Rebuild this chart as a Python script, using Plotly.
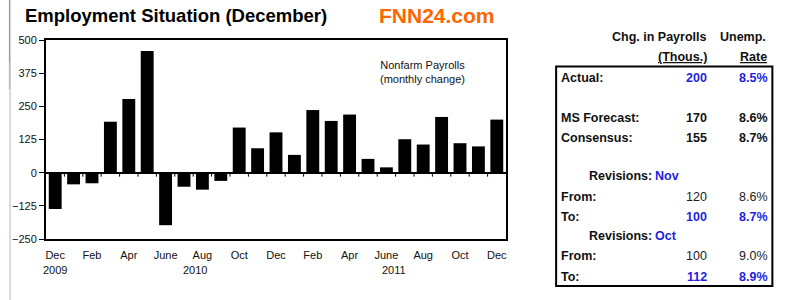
import plotly.graph_objects as go

# ---------------- data ----------------
months = ["Dec 2009", "Jan 2010", "Feb 2010", "Mar 2010", "Apr 2010", "May 2010", "Jun 2010",
          "Jul 2010", "Aug 2010", "Sep 2010", "Oct 2010", "Nov 2010", "Dec 2010",
          "Jan 2011", "Feb 2011", "Mar 2011", "Apr 2011", "May 2011", "Jun 2011",
          "Jul 2011", "Aug 2011", "Sep 2011", "Oct 2011", "Nov 2011", "Dec 2011"]
payrolls = [-137, -44, -40, 192, 278, 459, -198, -53, -64, -31, 170, 92, 152,
            67, 236, 195, 219, 52, 20, 126, 106, 210, 111, 99, 200]
tick_labels = ["Dec", "Feb", "Apr", "June", "Aug", "Oct", "Dec",
               "Feb", "Apr", "June", "Aug", "Oct", "Dec"]
years = ["2009", "2010", "2011"]
y_ticks = [-250, -125, 0, 125, 250, 375, 500]

head_payroll = ["Chg. in Payrolls", "(Thous.)"]
head_rate = ["Unemp.", "Rate"]
row_labels = ["Actual:", "MS Forecast:", "Consensus:", "From:", "To:", "From:", "To:"]
row_payroll = ["200", "170", "155", "120", "100", "100", "112"]
row_rate = ["8.5%", "8.6%", "8.7%", "8.6%", "8.7%", "9.0%", "8.9%"]
revision_months = ["Nov", "Oct"]

# ---------------- layout helpers ----------------
L, R, T, B = 38, 294, 40, 61
FW, FH = 800, 300
W = FW - L - R
H = FH - T - B


def px(x):
    return (x - L) / W


def py(y):
    return (FH - B - y) / H


FONT = "Liberation Sans, Arial, sans-serif"
BLUE = "#1f1fe0"
DARK = "#111111"

x_idx = list(range(len(months)))

fig = go.Figure()
fig.add_trace(go.Bar(x=x_idx, y=payrolls, marker=dict(color="black", line=dict(width=0)),
                     hoverinfo="skip", showlegend=False))

annotations = []
shapes = []

# boundary ticks on zero line
for i in range(len(months) - 1):
    shapes.append(dict(type="line", xref="x", yref="y", x0=i + 0.5, x1=i + 0.5,
                       ysizemode="pixel", yanchor=0, y0=0, y1=-4,
                       line=dict(color="black", width=1), layer="above"))

# year labels
year_pos = [0, 7.6, 18.4]
for yr, xp in zip(years, year_pos):
    annotations.append(dict(text=yr, x=xp, xref="x", y=py(270), yref="paper",
                            showarrow=False, xanchor="center", yanchor="middle",
                            font=dict(family=FONT, size=11, color=DARK)))

# chart note
annotations.append(dict(text="Nonfarm Payrolls<br>(monthly change)", x=px(421), y=py(71.5),
                        xref="paper", yref="paper", showarrow=False, xanchor="center",
                        yanchor="middle", align="center",
                        font=dict(family=FONT, size=11, color=DARK)))

# title and logo
annotations.append(dict(text="<b>Employment Situation (December)</b>", x=px(15), y=py(15),
                        xref="paper", yref="paper", showarrow=False, xanchor="left",
                        yanchor="middle", font=dict(family=FONT, size=18.5, color="black")))
annotations.append(dict(text="<b>FNN24.com</b>", x=px(375), y=py(15),
                        xref="paper", yref="paper", showarrow=False, xanchor="left",
                        yanchor="middle", font=dict(family=FONT, size=21, color="#FF6600")))

# table
TS = 12.5
X_LAB, X_PAY, X_RATE = 560, 713, 775


def txt(s, x, y, anchor, color=DARK, size=TS):
    annotations.append(dict(text=s, x=px(x), y=py(y), xref="paper", yref="paper",
                            showarrow=False, xanchor=anchor, yanchor="middle",
                            font=dict(family=FONT, size=size, color=color)))


txt("<b>" + head_payroll[0] + "</b>", X_PAY, 37, "right")
txt("<b>" + head_rate[0] + "</b>", X_RATE - 2, 37, "right")
txt("<b><u>" + head_payroll[1] + "</u></b>", X_PAY, 57, "right")
txt("<b><u>" + head_rate[1] + "</u></b>", X_RATE - 1, 57, "right")

row_y = [78, 118, 138, 197, 217, 256, 277]
styles = ["blue", "bold", "bold", "plain", "blue", "plain", "blue"]
for lab, pv, rv, yy, st in zip(row_labels, row_payroll, row_rate, row_y, styles):
    txt("<b>" + lab + "</b>", X_LAB, yy, "left")
    if st == "blue":
        txt("<b>" + pv + "</b>", X_PAY, yy, "right", BLUE)
        txt("<b>" + rv + "</b>", X_RATE, yy, "right", BLUE)
    elif st == "bold":
        txt("<b>" + pv + "</b>", X_PAY, yy, "right")
        txt("<b>" + rv + "</b>", X_RATE, yy, "right")
    else:
        txt(pv, X_PAY, yy, "right", "#222222")
        txt(rv, X_RATE, yy, "right", "#222222")

for mname, yy in zip(revision_months, [176, 236]):
    txt("<b>Revisions:</b>", 588, yy, "left")
    txt("<b>" + mname + "</b>", 656, yy, "left", BLUE)

shapes.append(dict(type="rect", xref="paper", yref="paper", x0=px(557), x1=px(777),
                   y0=py(286), y1=py(66.5), line=dict(color="black", width=2),
                   fillcolor="rgba(0,0,0,0)"))

# page edge lines at left
shapes.append(dict(type="line", xref="paper", yref="paper", x0=px(1), x1=px(1),
                   y0=py(0), y1=py(89), line=dict(color="#9a9a9a", width=1.5)))
shapes.append(dict(type="line", xref="paper", yref="paper", x0=px(1.5), x1=px(1.5),
                   y0=py(62), y1=py(300), line=dict(color="#cfcfcf", width=1.5)))

fig.update_layout(
    width=FW, height=FH, autosize=False,
    margin=dict(l=L, r=R, t=T, b=B, pad=0),
    paper_bgcolor="white", plot_bgcolor="white",
    bargap=0.3,
    showlegend=False,
    annotations=annotations,
    shapes=shapes,
    xaxis=dict(range=[-0.5, len(months) - 0.5], tickvals=x_idx[::2], ticktext=tick_labels,
               showline=True, linecolor="black", linewidth=2, mirror=True,
               showgrid=False, zeroline=False, ticks="outside", ticklen=5,
               tickcolor="rgba(0,0,0,0)",
               tickfont=dict(family=FONT, size=11, color=DARK)),
    yaxis=dict(range=[-250, 500], tickvals=y_ticks, showline=True, linecolor="black",
               linewidth=2, mirror=True, showgrid=False, zeroline=True,
               zerolinecolor="black", zerolinewidth=1.5, ticks="outside", ticklen=5,
               tickcolor="black", tickwidth=1,
               tickfont=dict(family=FONT, size=11, color=DARK)),
)

fig.write_html("out.html")
